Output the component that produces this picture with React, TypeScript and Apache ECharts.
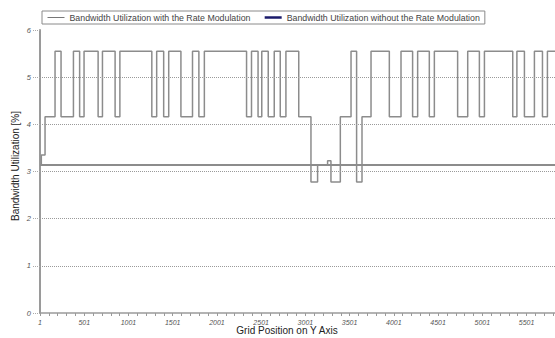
import React, { useEffect, useRef } from "react";
import * as echarts from "echarts";

const seriesNames = [
  "Bandwidth Utilization with the Rate Modulation",
  "Bandwidth Utilization without the Rate Modulation",
];

// Grid position where each new level starts (step series)
const stepPositions = [
  1, 15, 57, 170, 238, 378, 448, 498, 657, 706, 849, 903, 1264, 1319, 1398, 1455,
  1593, 1724, 1796, 1858, 2335, 2391, 2465, 2507, 2580, 2648, 2716, 2780, 2925,
  3063, 3138, 3251, 3289, 3395, 3516, 3579, 3640, 3742, 3949, 4081, 4212, 4269,
  4401, 4458, 4721, 4835, 4967, 5024, 5344, 5391, 5476, 5589, 5680, 5736, 6500,
];
const stepValues = [
  3.14, 3.35, 4.16, 5.55, 4.16, 5.55, 4.16, 5.55, 4.16, 5.55, 4.16, 5.55, 4.16, 5.55, 4.16, 5.55,
  4.16, 5.55, 4.16, 5.55, 4.16, 5.55, 4.16, 5.55, 4.16, 5.55, 4.16, 5.55, 4.16,
  2.78, 3.14, 3.23, 2.78, 4.16, 5.55, 2.78, 4.16, 5.55, 4.16, 5.55, 4.16, 5.55,
  4.16, 5.55, 4.16, 5.55, 4.16, 5.55, 4.16, 5.55, 4.16, 5.55, 4.16, 5.55, 5.55,
];

const flatPositions = [1, 6500];
const flatValues = [3.14, 3.14];

const gridValues = [1, 2, 3, 4, 5];
const xTickInterval = 500;
const lastShownTick = 5500;
const yTicks = [0, 1, 2, 3, 4, 5, 6];

const axisTitleX = "Grid Position on Y Axis";
const axisTitleY = "Bandwidth Utilization [%]";

export default function App() {
  const ref = useRef<HTMLDivElement>(null);

  useEffect(() => {
    document.body.style.margin = "0";
    if (!ref.current) return;
    const chart = echarts.init(ref.current, undefined, { renderer: "svg" });
    const font = "'Liberation Sans', Arial, sans-serif";
    chart.setOption({
      animation: false,
      backgroundColor: "#ffffff",
      textStyle: { fontFamily: font },
      legend: {
        top: 11,
        left: 42,
        borderColor: "#8a8a8a",
        borderWidth: 1,
        padding: [2, 5, 2, 5],
        itemGap: 13,
        itemWidth: 17,
        itemHeight: 10,
        textStyle: { fontSize: 8.8, color: "#444", fontFamily: font },
        data: [
          {
            name: seriesNames[0],
            lineStyle: { color: "#777", width: 1 },
            itemStyle: { color: "rgba(0,0,0,0)", borderWidth: 0, opacity: 0 },
          },
          {
            name: seriesNames[1],
            lineStyle: { color: "#1b1b6b", width: 2.5 },
            itemStyle: { color: "rgba(0,0,0,0)", borderWidth: 0, opacity: 0 },
          },
        ],
      },
      grid: { left: 40, top: 30, bottom: 25, right: 0, outerBoundsMode: "none", containLabel: false },
      xAxis: {
        type: "value",
        min: 0,
        max: 6500,
        interval: xTickInterval,
        axisLine: { show: true, lineStyle: { color: "#9a9a9a", width: 1.5 } },
        axisTick: { show: true, length: 3, lineStyle: { color: "#9a9a9a" } },
        minorTick: { show: true, splitNumber: 5, length: 3, lineStyle: { color: "#9a9a9a" } },
        splitLine: { show: false },
        axisLabel: {
          fontSize: 7,
          fontStyle: "italic",
          color: "#555",
          margin: 6,
          formatter: (v: number) => (v > lastShownTick ? "" : String(v + 1)),
        },
      },
      yAxis: {
        type: "value",
        min: yTicks[0],
        max: yTicks[yTicks.length - 1],
        interval: 1,
        axisLine: { show: true, lineStyle: { color: "#9a9a9a", width: 2 } },
        axisTick: { show: true, length: 7, lineStyle: { color: "#aaa", type: "dotted" } },
        splitLine: { show: false },
        axisLabel: { fontSize: 7.5, fontStyle: "italic", color: "#555", margin: 9 },
      },
      graphic: [
        {
          type: "text",
          x: 287,
          y: 330,
          style: {
            text: axisTitleX,
            fill: "#222",
            font: `10px ${font}`,
            align: "center",
            verticalAlign: "middle",
          },
        },
        {
          type: "text",
          x: 15,
          y: 166,
          rotation: Math.PI / 2,
          style: {
            text: axisTitleY,
            fill: "#222",
            font: `10px ${font}`,
            align: "center",
            verticalAlign: "middle",
          },
        },
      ],
      series: [
        {
          name: seriesNames[1],
          type: "line",
          symbol: "none",
          z: 2,
          lineStyle: { color: "#8c8c8c", width: 2 },
          itemStyle: { color: "#8c8c8c" },
          data: flatPositions.map((p, i) => [p, flatValues[i]]),
          markLine: {
            silent: true,
            symbol: ["none", "none"],
            label: { show: false },
            lineStyle: { color: "#9a9a9a", type: "dotted", width: 1 },
            data: gridValues.map((v) => ({ yAxis: v })),
          },
        },
        {
          name: seriesNames[0],
          type: "line",
          step: "end",
          symbol: "none",
          z: 3,
          lineStyle: { color: "#8c8c8c", width: 1.5 },
          itemStyle: { color: "#8c8c8c" },
          data: stepPositions.map((p, i) => [p, stepValues[i]]),
        },
      ],
    });
    return () => chart.dispose();
  }, []);

  return (
    <div style={{ width: 555, height: 338, overflow: "hidden", position: "relative" }}>
      <div ref={ref} style={{ width: 615, height: 338 }} />
    </div>
  );
}
